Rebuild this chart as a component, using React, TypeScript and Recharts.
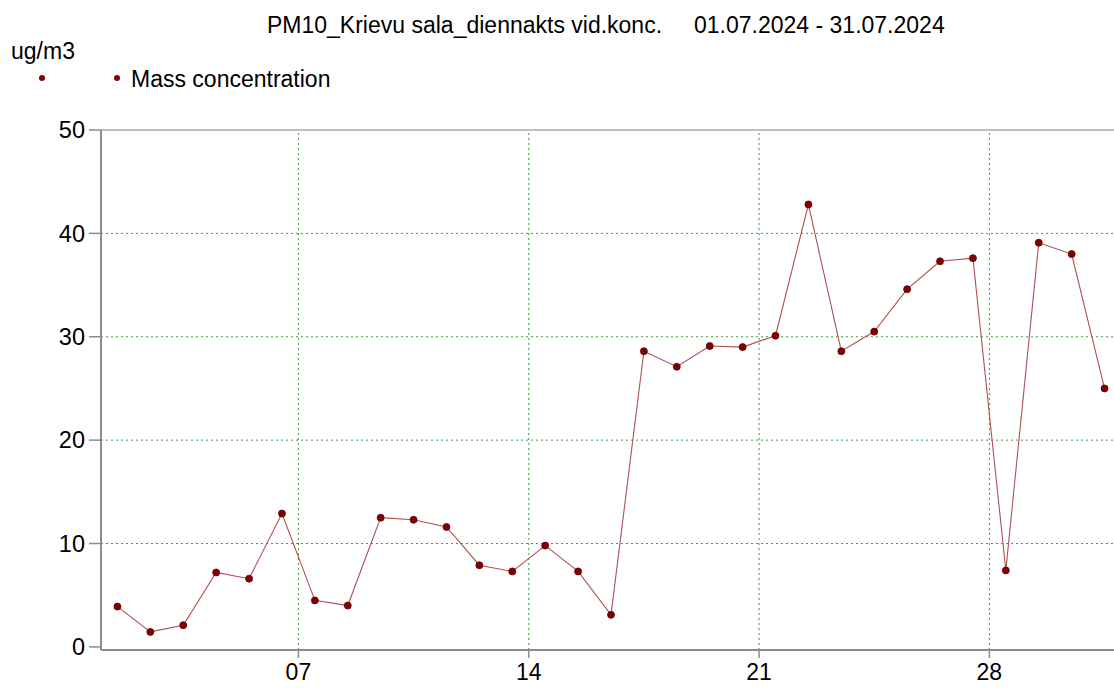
import { LineChart, Line, XAxis, YAxis, ReferenceLine } from "recharts";

// daily averages, July 2024
const days = [
  1, 2, 3, 4, 5, 6, 7, 8, 9, 10, 11, 12, 13, 14, 15, 16,
  17, 18, 19, 20, 21, 22, 23, 24, 25, 26, 27, 28, 29, 30, 31,
];
const massConc = [
  3.9, 1.45, 2.1, 7.2, 6.6, 12.9, 4.5, 4.0, 12.5, 12.3, 11.6, 7.9, 7.3, 9.8, 7.3, 3.1,
  28.6, 27.1, 29.1, 29.0, 30.1, 42.8, 28.6, 30.5, 34.6, 37.3, 37.6, 7.4, 39.1, 38.0, 25.0,
];
const xTicks = [7, 14, 21, 28];
const yTicks = [0, 10, 20, 30, 40, 50];
const hGrid = [10, 20, 30, 40];

// daily means are plotted at midday
const data = days.map((d, i) => ({ t: d + 0.5, v: massConc[i] }));

const font = '"Liberation Sans", Arial, sans-serif';
const gridColor = "#3c9c3c";
const axisColor = "#8c8c8c";

export default function App() {
  return (
    <div
      style={{
        position: "fixed",
        left: 0,
        top: 0,
        width: 1114,
        height: 688,
        overflow: "hidden",
        background: "#fff",
        fontFamily: font,
        color: "#000",
      }}
    >
      <div style={{ position: "absolute", left: 267, top: 12, fontSize: 23, whiteSpace: "pre" }}>
        {"PM10_Krievu sala_diennakts vid.konc.     01.07.2024 - 31.07.2024"}
      </div>
      <div style={{ position: "absolute", left: 11, top: 38, fontSize: 23 }}>ug/m3</div>
      <div
        style={{
          position: "absolute",
          left: 39,
          top: 75,
          width: 6,
          height: 6,
          borderRadius: 3,
          background: "#800000",
        }}
      />
      <div
        style={{
          position: "absolute",
          left: 114,
          top: 75,
          width: 6,
          height: 6,
          borderRadius: 3,
          background: "#800000",
        }}
      />
      <div style={{ position: "absolute", left: 131, top: 66, fontSize: 23 }}>Mass concentration</div>

      <div style={{ position: "absolute", left: 0, top: 0 }}>
        <LineChart
          width={1122}
          height={688}
          data={data}
          margin={{ top: 130, right: 1, left: 41, bottom: 8 }}
        >
          <XAxis
            dataKey="t"
            type="number"
            domain={[1, 32]}
            ticks={xTicks}
            tickFormatter={(v) => String(v).padStart(2, "0")}
            height={30}
            tickSize={8}
            tickMargin={6}
            axisLine={{ stroke: axisColor, strokeWidth: 2 }}
            tickLine={{ stroke: axisColor, strokeWidth: 1.5 }}
            tick={{ fill: "#000", fontSize: 23, fontFamily: font }}
            allowDataOverflow
          />
          <YAxis
            type="number"
            domain={[-0.3, 50]}
            ticks={yTicks}
            width={60}
            tickSize={12}
            tickMargin={4}
            axisLine={{ stroke: axisColor, strokeWidth: 2 }}
            tickLine={{ stroke: axisColor, strokeWidth: 1.5 }}
            tick={{ fill: "#000", fontSize: 23.5, fontFamily: font }}
            allowDataOverflow
          />
          {hGrid.map((y) => (
            <ReferenceLine key={"h" + y} y={y} stroke={gridColor} strokeDasharray="2 3" />
          ))}
          {xTicks.map((x) => (
            <ReferenceLine key={"v" + x} x={x} stroke={gridColor} strokeDasharray="2 3" />
          ))}
          <ReferenceLine y={50} stroke="#aaaaaa" strokeWidth={1.5} />
          <Line
            type="linear"
            dataKey="v"
            stroke="#b05050"
            strokeWidth={1.1}
            dot={{ r: 3.5, fill: "#800000", stroke: "#5a0000", strokeWidth: 0.8 }}
            isAnimationActive={false}
          />
        </LineChart>
      </div>
    </div>
  );
}
